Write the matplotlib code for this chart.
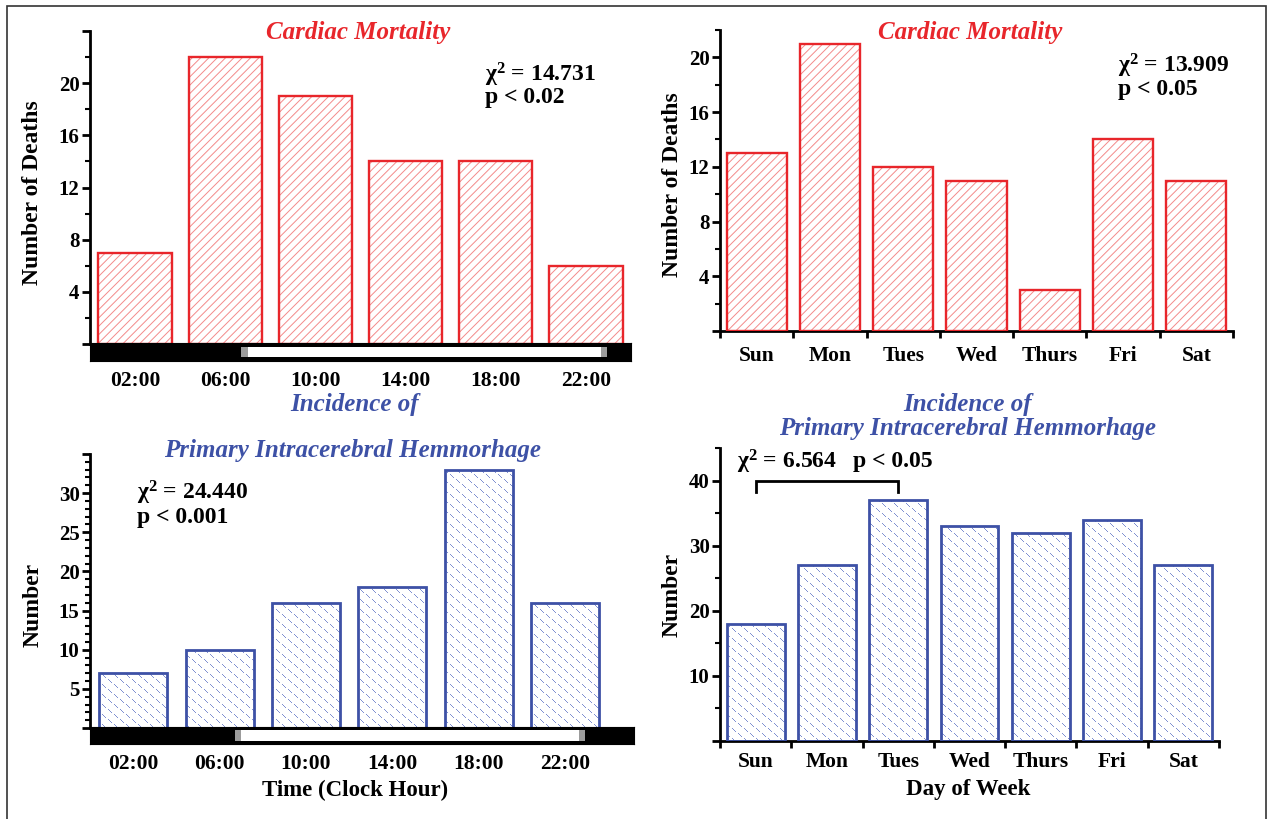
import numpy as np
import matplotlib
matplotlib.use('Agg')
import matplotlib.pyplot as plt
from matplotlib.patches import Rectangle
from matplotlib.path import Path
from matplotlib.ticker import MultipleLocator, FuncFormatter

plt.rcParams['font.family'] = ['Liberation Serif', 'DejaVu Serif']
plt.rcParams['font.weight'] = 'bold'
plt.rcParams['hatch.linewidth'] = 0.7

# --- data ---
hours = [2, 6, 10, 14, 18, 22]
hour_labels = ['02:00', '06:00', '10:00', '14:00', '18:00', '22:00']
days = ['Sun', 'Mon', 'Tues', 'Wed', 'Thurs', 'Fri', 'Sat']

cardiac_by_hour = [7, 22, 19, 14, 14, 6]
cardiac_by_day = [13, 21, 12, 11, 3, 14, 11]
pich_by_hour = [7, 10, 16, 18, 33, 16]
pich_by_day = [18, 27, 37, 33, 32, 34, 27]

# dawn / dusk twilight (clock hours)
dawn = (6.7, 7.0)
dusk = (22.65, 22.95)

RED = '#e8262b'
HATCH_RED = '#f38a8a'
BLUE = '#3d51a6'
DASH_BLUE = (0.38, 0.46, 0.78)

W, H = 1269, 819
fig = plt.figure(figsize=(W / 100, H / 100), dpi=100)


def box(l, t, r, b):
    return [l / W, 1 - b / H, (r - l) / W, (b - t) / H]


def at(x, y):
    return x / W, 1 - y / H


def style_yaxis(ax, ymax, major, minor, labeled):
    ax.set_ylim(0, ymax)
    for s in ['top', 'right']:
        ax.spines[s].set_visible(False)
    ax.spines['left'].set_linewidth(2)
    ax.yaxis.set_major_locator(MultipleLocator(major))
    ax.yaxis.set_minor_locator(MultipleLocator(minor))
    ax.yaxis.set_major_formatter(
        FuncFormatter(lambda v, p: f'{v:.0f}' if round(v) in labeled else ''))
    ax.tick_params(axis='y', which='major', length=6, width=2, labelsize=15, pad=1.5)
    ax.tick_params(axis='y', which='minor', length=3.5, width=1.5)


def day_axis(ax, pad):
    ax.set_xlim(-0.5, len(days) - 0.5)
    ax.spines['bottom'].set_linewidth(2)
    ax.set_xticks(np.arange(-0.5, len(days)), [])
    ax.set_xticks(range(len(days)), days, minor=True)
    ax.tick_params(axis='x', which='major', length=5, width=2)
    ax.tick_params(axis='x', which='minor', length=0, labelsize=15.5, pad=pad)


def day_night(bax, xmax):
    bax.set_xlim(0, xmax)
    bax.set_ylim(0, 1)
    bax.set_facecolor('black')
    bax.add_patch(Rectangle((dawn[1], 0.2), dusk[0] - dawn[1], 0.6,
                            facecolor='white', edgecolor='none'))
    for a, b in (dawn, dusk):
        bax.add_patch(Rectangle((a, 0.2), b - a, 0.6,
                                facecolor='#9c9c9c', edgecolor='none'))
    bax.set_yticks([])
    bax.set_xticks(hours, hour_labels)
    bax.tick_params(axis='x', length=0, labelsize=15.5, pad=7)


def red_bars(ax, x, vals, width):
    ax.bar(x, vals, width, facecolor='white', edgecolor=HATCH_RED,
           hatch='////', linewidth=0, zorder=2)
    ax.bar(x, vals, width, fill=False, edgecolor=RED, linewidth=1.7, zorder=3)


def blue_bars(ax, x, vals, width, px_w, px_h):
    bars = ax.bar(x, vals, width, facecolor='white', edgecolor='none', zorder=2)
    # small diagonal dash texture, clipped to the bars
    tile = np.zeros((10, 12, 4))
    for r, c in [(0, 0), (1, 1), (2, 2), (3, 3), (5, 6), (6, 7), (7, 8), (8, 9)]:
        tile[r, c] = (*DASH_BLUE, 0.8)
    img = np.tile(tile, (px_h // 10 + 1, px_w // 12 + 1, 1))[:px_h, :px_w]
    clip = Path.make_compound_path(
        *[b.get_path().transformed(b.get_patch_transform()) for b in bars])
    x0, x1 = ax.get_xlim()
    y0, y1 = ax.get_ylim()
    im = ax.imshow(img, extent=(x0, x1, y0, y1), aspect='auto',
                   interpolation='nearest', zorder=2.5)
    im.set_clip_path(clip, ax.transData)
    ax.set_xlim(x0, x1)
    ax.set_ylim(y0, y1)
    ax.bar(x, vals, width, fill=False, edgecolor=BLUE, linewidth=2, zorder=3)


CHI2 = r'$\mathregular{χ^2}$'
title_kw = dict(fontsize=18, fontweight='bold', style='italic', ha='center', va='center')
stat_kw = dict(fontsize=17, fontweight='bold', ha='left', va='center')
ylab_kw = dict(fontsize=17, rotation=90, ha='center', va='center')

# --- cardiac mortality by hour ---
ax1 = fig.add_axes(box(90, 31, 631, 344))
ax1.set_xlim(0, 24)
style_yaxis(ax1, 24, 4, 2, {4, 8, 12, 16, 20})
ax1.spines['bottom'].set_visible(False)
ax1.set_xticks([])
red_bars(ax1, hours, cardiac_by_hour, 3.25)
band1 = fig.add_axes(box(90, 343, 631, 361))
day_night(band1, 24)
fig.text(*at(358, 32), 'Cardiac Mortality', color=RED, **title_kw)
fig.text(*at(485, 75), CHI2 + ' = 14.731', **stat_kw)
fig.text(*at(485, 98), 'p < 0.02', **stat_kw)
fig.text(*at(33, 193), 'Number of Deaths', **ylab_kw)

# --- cardiac mortality by weekday ---
ax2 = fig.add_axes(box(720, 30, 1233, 331))
style_yaxis(ax2, 22, 4, 2, {4, 8, 12, 16, 20})
day_axis(ax2, 11)
red_bars(ax2, range(len(days)), cardiac_by_day, 0.82)
fig.text(*at(970, 32), 'Cardiac Mortality', color=RED, **title_kw)
fig.text(*at(1118, 66), CHI2 + ' = 13.909', **stat_kw)
fig.text(*at(1118, 89), 'p < 0.05', **stat_kw)
fig.text(*at(673, 185), 'Number of Deaths', **ylab_kw)

# --- intracerebral haemorrhage by hour ---
ax3 = fig.add_axes(box(90, 454, 634, 728))
ax3.set_xlim(0, 25.2)
style_yaxis(ax3, 35, 5, 1, {5, 10, 15, 20, 25, 30})
ax3.spines['bottom'].set_visible(False)
ax3.set_xticks([])
blue_bars(ax3, hours, pich_by_hour, 3.15, 634 - 90, 728 - 454)
band3 = fig.add_axes(box(90, 727, 634, 744))
day_night(band3, 25.2)
fig.text(*at(355, 405), 'Incidence of', color=BLUE, **title_kw)
fig.text(*at(353, 450), 'Primary Intracerebral Hemmorhage', color=BLUE, **title_kw)
fig.text(*at(137, 493), CHI2 + ' = 24.440', **stat_kw)
fig.text(*at(137, 518), 'p < 0.001', **stat_kw)
fig.text(*at(33, 605), 'Number', **ylab_kw)
fig.text(*at(355, 790), 'Time (Clock Hour)', fontsize=16.5, ha='center', va='center')

# --- intracerebral haemorrhage by weekday ---
ax4 = fig.add_axes(box(720, 448, 1219, 741))
style_yaxis(ax4, 45, 10, 5, {10, 20, 30, 40})
day_axis(ax4, 8)
blue_bars(ax4, range(len(days)), pich_by_day, 0.81, 1219 - 720, 741 - 448)
ax4.plot([0, 0, 2, 2], [38.2, 40, 40, 38.2], color='black', lw=2,
         solid_joinstyle='miter', clip_on=False, zorder=4)
fig.text(*at(968, 405), 'Incidence of', color=BLUE, **title_kw)
fig.text(*at(968, 429), 'Primary Intracerebral Hemmorhage', color=BLUE, **title_kw)
fig.text(*at(737, 462), CHI2 + ' = 6.564', **stat_kw)
fig.text(*at(853, 462), 'p < 0.05', **stat_kw)
fig.text(*at(672, 595), 'Number', **ylab_kw)
fig.text(*at(968, 790), 'Day of Week', fontsize=16.5, ha='center', va='center')

# outer frame
fig.patches.append(Rectangle((7 / W, -0.05), (1266 - 7) / W, 1 - 6 / H + 0.05,
                             transform=fig.transFigure, fill=False,
                             edgecolor='#333333', linewidth=1.2))

fig.savefig('out.png', dpi=100)
